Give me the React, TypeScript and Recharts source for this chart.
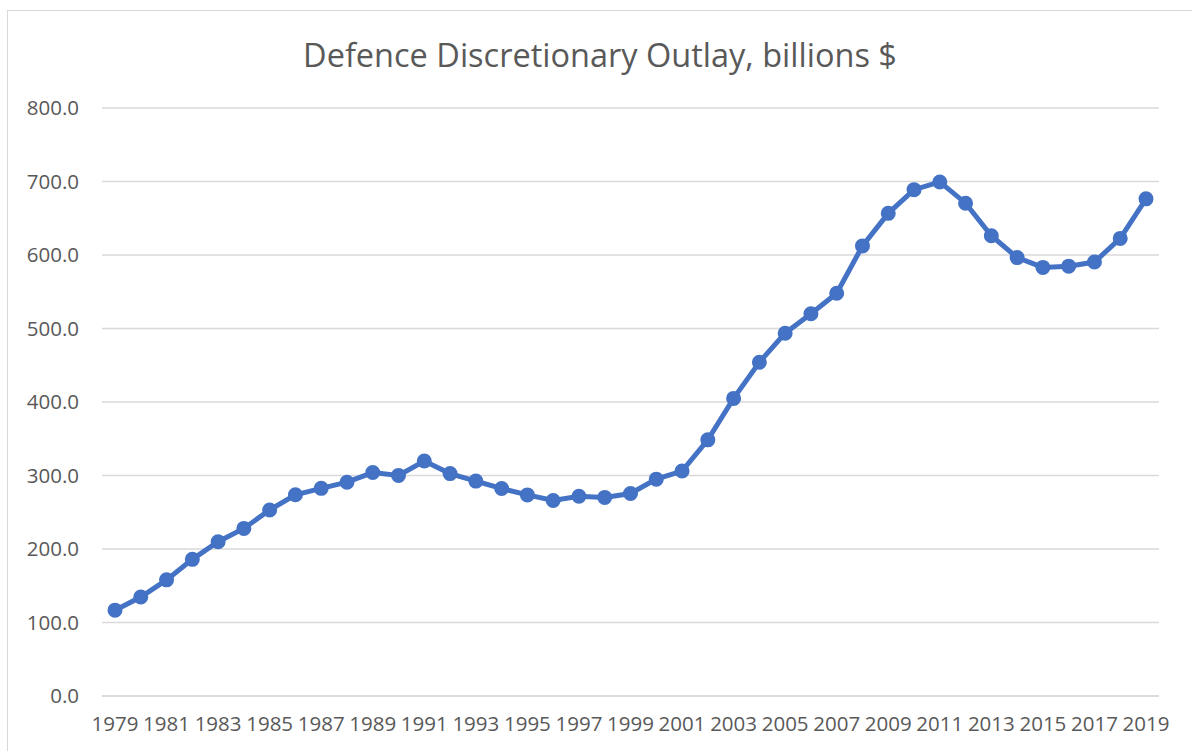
import { LineChart, Line, XAxis, YAxis, CartesianGrid } from 'recharts'

const years = [
  '1979', '1980', '1981', '1982', '1983', '1984', '1985', '1986', '1987', '1988',
  '1989', '1990', '1991', '1992', '1993', '1994', '1995', '1996', '1997', '1998',
  '1999', '2000', '2001', '2002', '2003', '2004', '2005', '2006', '2007', '2008',
  '2009', '2010', '2011', '2012', '2013', '2014', '2015', '2016', '2017', '2018', '2019',
]

const outlay = [
  116.8, 134.6, 158.0, 185.9, 209.9, 228.0, 253.1, 273.8, 282.5, 290.9,
  304.0, 300.1, 319.7, 302.6, 292.4, 282.3, 273.6, 266.0, 271.7, 270.2,
  275.5, 295.0, 306.1, 348.5, 404.9, 454.1, 493.6, 520.0, 547.9, 612.4,
  656.7, 688.9, 699.4, 670.5, 626.2, 596.5, 583.1, 584.8, 590.4, 622.6, 676.4,
]

const yTicks = [0, 100, 200, 300, 400, 500, 600, 700, 800]

const data = years.map((year, i) => ({ year, outlay: outlay[i] }))

const font = '"Open Sans", sans-serif'
const tickStyle = { fill: '#595959', fontSize: 20.5, fontFamily: font }

export default function App() {
  return (
    <div
      style={{
        position: 'absolute',
        left: 7,
        top: 10,
        width: 1184,
        height: 740,
        border: '1px solid #d9d9d9',
        background: '#fff',
      }}
    >
      <div
        style={{
          position: 'absolute',
          left: 0,
          right: 0,
          top: 24,
          textAlign: 'center',
          fontFamily: font,
          fontSize: 32.5,
          color: '#595959',
          lineHeight: '40px',
        }}
      >
        Defence Discretionary Outlay, billions $
      </div>
      <LineChart
        width={1184}
        height={740}
        data={data}
        margin={{ top: 97, right: 33, bottom: 15, left: 0 }}
      >
        <CartesianGrid vertical={false} stroke="#d9d9d9" strokeWidth={1.5} />
        <XAxis
          dataKey="year"
          interval={1}
          padding={{ left: 13, right: 13 }}
          tickLine={false}
          axisLine={{ stroke: '#d9d9d9', strokeWidth: 1.5 }}
          tick={tickStyle}
          tickMargin={14}
          height={40}
        />
        <YAxis
          width={94}
          domain={[0, 800]}
          ticks={yTicks}
          tickFormatter={(v: number) => v.toFixed(1)}
          axisLine={false}
          tickLine={false}
          tick={tickStyle}
          tickMargin={17}
        />
        <Line
          type="linear"
          dataKey="outlay"
          stroke="#4472c4"
          strokeWidth={5}
          dot={{ r: 6.5, fill: '#4472c4', stroke: '#4472c4', strokeWidth: 2 }}
          isAnimationActive={false}
        />
      </LineChart>
    </div>
  )
}
